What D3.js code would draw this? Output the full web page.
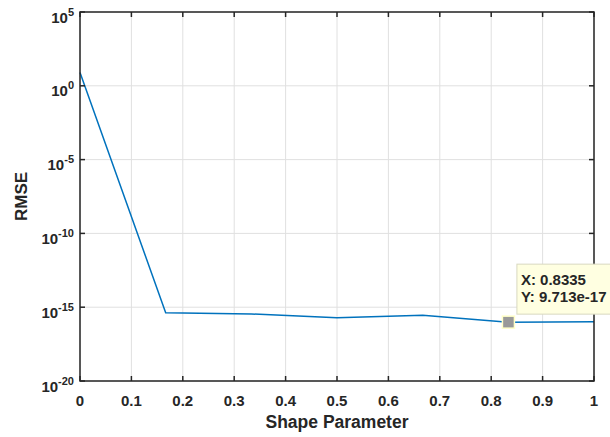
<!DOCTYPE html>
<html><head><meta charset="utf-8">
<script src="https://cdn.jsdelivr.net/npm/d3@7"></script>
<style>body{margin:0;background:#fff}svg{display:block}text{font-family:"Liberation Sans",Arial,Helvetica,sans-serif;font-weight:bold;fill:#262626}</style>
</head><body><div id="chart"></div>
<script>
const xValues = [0, 0.1667, 0.3334, 0.5, 0.6668, 0.8335, 1.0];
const rmseValues = [8.0, 4.2e-16, 3.5e-16, 1.9e-16, 2.8e-16, 9.713e-17, 1.05e-16];
const xTicks = [0, 0.1, 0.2, 0.3, 0.4, 0.5, 0.6, 0.7, 0.8, 0.9, 1];
const yTickExps = [5, 0, -5, -10, -15, -20];
const tipIndex = 5;
const tipLabels = ["X: 0.8335", "Y: 9.713e-17"];

const W = 610, H = 437;
const m = {left: 80, right: 16, top: 12, bottom: 56};
const svg = d3.select("#chart").append("svg").attr("width", W).attr("height", H);
const x = d3.scaleLinear().domain([0, 1]).range([m.left, W - m.right]);
const y = d3.scaleLog().domain([1e-20, 1e5]).range([H - m.bottom, m.top]);
const x0 = x.range()[0], x1 = x.range()[1], y0 = y.range()[0], y1 = y.range()[1];

// grid
const g = svg.append("g");
g.selectAll(".gx").data(xTicks).join("line")
  .attr("x1", d => x(d)).attr("x2", d => x(d)).attr("y1", y0).attr("y2", y1)
  .attr("stroke", "#e0e0e0").attr("stroke-width", 1);
g.selectAll(".gy").data(yTickExps).join("line")
  .attr("x1", x0).attr("x2", x1).attr("y1", d => y(Math.pow(10, d))).attr("y2", d => y(Math.pow(10, d)))
  .attr("stroke", "#e0e0e0").attr("stroke-width", 1);

// line
svg.append("path").datum(xValues.map((v, i) => [v, rmseValues[i]]))
  .attr("fill", "none").attr("stroke", "#0072bd").attr("stroke-width", 1.5)
  .attr("d", d3.line().x(d => x(d[0])).y(d => y(d[1])));

// axes box
const ax = svg.append("g").attr("stroke", "#262626").attr("stroke-width", 1.5).attr("fill", "none");
ax.append("rect").attr("x", x0).attr("y", y1).attr("width", x1 - x0).attr("height", y0 - y1);
const tl = 5;
ax.selectAll(".tb").data(xTicks).join("line")
  .attr("x1", d => x(d)).attr("x2", d => x(d)).attr("y1", y0).attr("y2", y0 - tl);
ax.selectAll(".tt").data(xTicks).join("line")
  .attr("x1", d => x(d)).attr("x2", d => x(d)).attr("y1", y1).attr("y2", y1 + tl);
ax.selectAll(".tlft").data(yTickExps).join("line")
  .attr("x1", x0).attr("x2", x0 + tl).attr("y1", d => y(Math.pow(10, d))).attr("y2", d => y(Math.pow(10, d)));
ax.selectAll(".trt").data(yTickExps).join("line")
  .attr("x1", x1).attr("x2", x1 - tl).attr("y1", d => y(Math.pow(10, d))).attr("y2", d => y(Math.pow(10, d)));

// x tick labels
svg.selectAll(".xl").data(xTicks).join("text")
  .attr("x", d => x(d)).attr("y", y0 + 24.5).attr("text-anchor", "middle")
  .attr("font-size", 15).text(d => d3.format("~g")(d));

// y tick labels
const yl = svg.selectAll(".yl").data(yTickExps).join("text")
  .attr("x", x0 - 6).attr("y", d => y(Math.pow(10, d)) + 10.5).attr("text-anchor", "end").attr("font-size", 15);
yl.append("tspan").text("10");
yl.append("tspan").attr("dy", -7).attr("font-size", 11).text(d => d);

// axis titles
svg.append("text").attr("x", (x0 + x1) / 2).attr("y", y0 + 47).attr("text-anchor", "middle")
  .attr("font-size", 17.5).text("Shape Parameter");
svg.append("text").attr("transform", `translate(27,${(y0 + y1) / 2}) rotate(-90)`)
  .attr("text-anchor", "middle").attr("font-size", 17).text("RMSE");

// datatip
const tx = x(xValues[tipIndex]), ty = y(rmseValues[tipIndex]);
svg.append("rect").attr("x", tx + 8.5).attr("y", ty - 58).attr("width", 140).attr("height", 50)
  .attr("fill", "#ffffe1").attr("stroke", "#d8d8c0").attr("stroke-width", 1);
svg.append("text").attr("x", tx + 12.5).attr("y", ty - 37.5).attr("font-size", 15).attr("fill", "#1a1a1a").text(tipLabels[0]);
svg.append("text").attr("x", tx + 12.5).attr("y", ty - 20.5).attr("font-size", 15).attr("fill", "#1a1a1a").text(tipLabels[1]);
svg.append("rect").attr("x", tx - 6).attr("y", ty - 6).attr("width", 12).attr("height", 12)
  .attr("fill", "#999999").attr("stroke", "#ffffc8").attr("stroke-width", 1.5);
</script></body></html>
